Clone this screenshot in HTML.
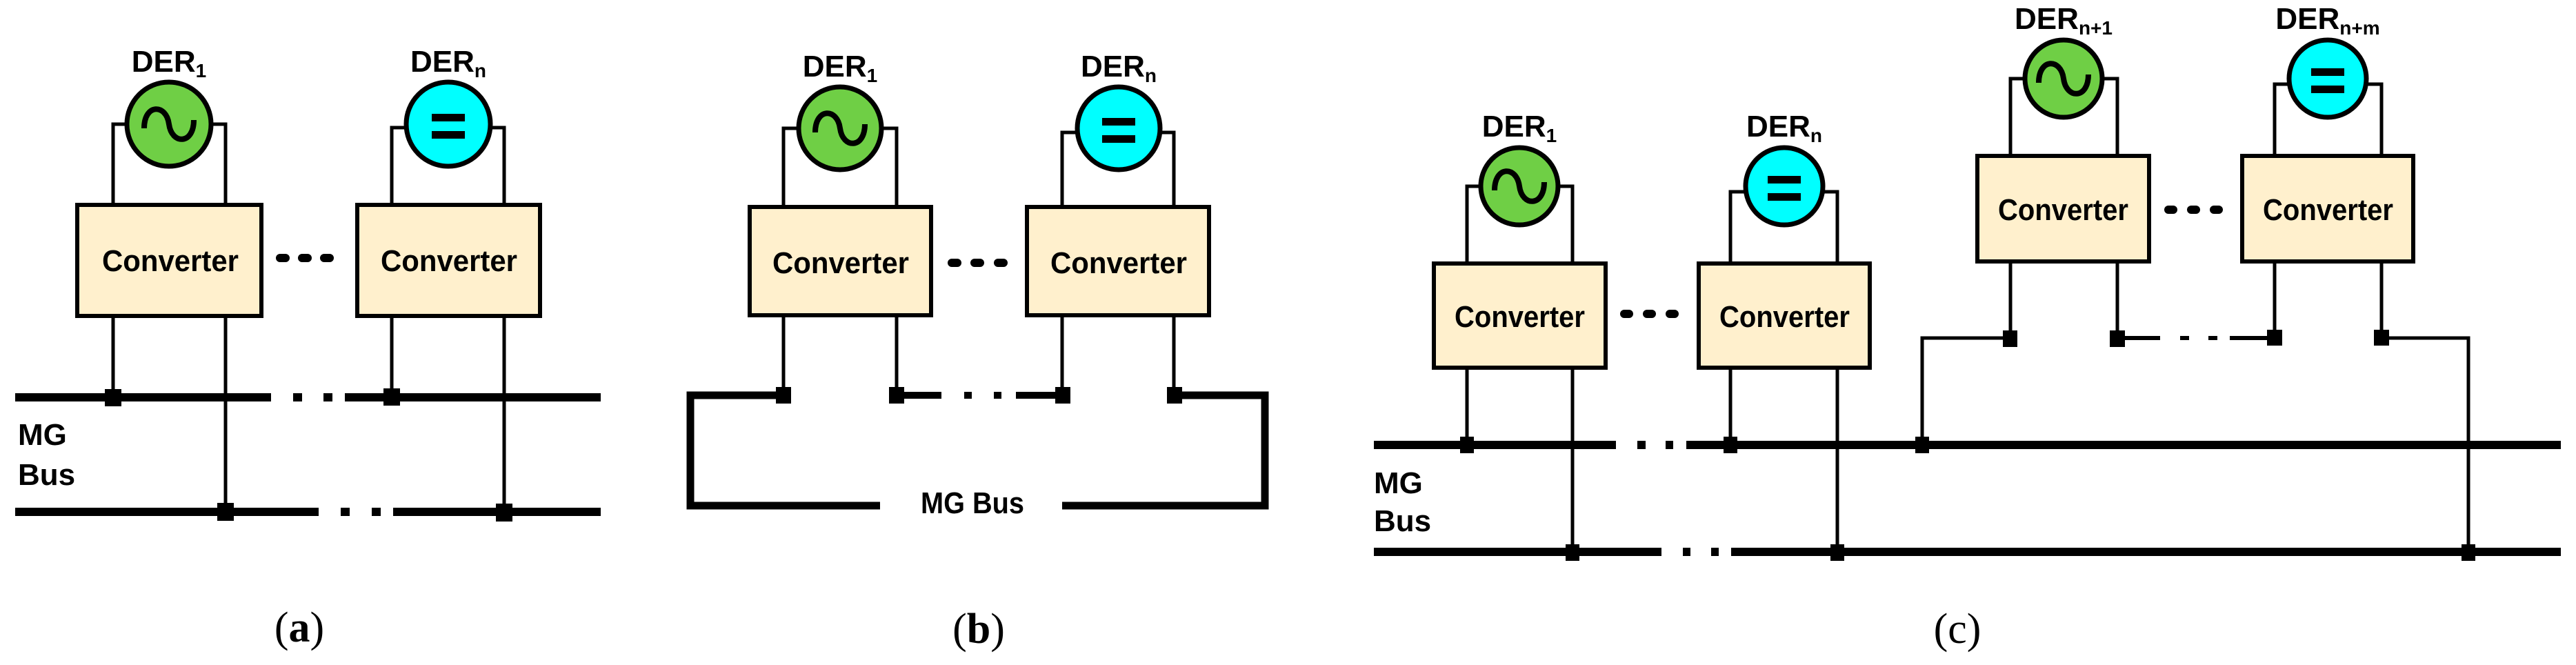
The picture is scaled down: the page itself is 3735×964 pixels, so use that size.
<!DOCTYPE html>
<html><head><meta charset="utf-8"><style>
html,body{margin:0;padding:0;background:#fff;}
svg{display:block;}
text{font-family:"Liberation Sans",sans-serif;font-weight:bold;fill:#000;}
.cap{font-family:"Liberation Serif",serif;font-weight:normal;font-size:62px;}
</style></head><body>
<svg width="3735" height="964" viewBox="0 0 3735 964" xmlns="http://www.w3.org/2000/svg">
<defs>
<g id="ac">
<path d="M-36 6 C-36 -30 -4 -30 0 0 C4 30 36 30 36 -6" fill="none" stroke="#000" stroke-width="8"/>
</g>
<g id="dc">
<rect x="-24" y="-15" width="48" height="11"/>
<rect x="-24" y="10" width="48" height="11"/>
</g>
</defs>
<g fill="none" stroke="#000">
<!-- ===== Panel a ===== -->
<path d="M164 297 V180 H184 M327 297 V180 H306" stroke-width="5"/>
<circle cx="245" cy="180" r="61" fill="#6fcf45" stroke-width="7"/>
<path d="M568 297 V185 H589 M731 297 V185 H711" stroke-width="5"/>
<circle cx="650" cy="180" r="61" fill="#00ffff" stroke-width="7"/>
<rect x="112" y="297" width="267" height="161" fill="#fff0cd" stroke-width="6"/>
<rect x="518" y="297" width="265" height="161" fill="#fff0cd" stroke-width="6"/>
<path d="M164 458 V576 M327 458 V742 M568 458 V576 M731 458 V742" stroke-width="5"/>
<path d="M22 576 H393 M425 576 H438 M469 576 H482 M500 576 H871" stroke-width="12"/>
<path d="M22 742 H462 M494 742 H507 M539 742 H552 M570 742 H871" stroke-width="12"/>
<path d="M406 374 H414 M438 374 H446 M470 374 H478" stroke-width="12" stroke-linecap="round"/>
<!-- ===== Panel b ===== -->
<path d="M1136 300 V186 H1158 M1300 300 V186 H1278" stroke-width="5"/>
<circle cx="1218" cy="186" r="60" fill="#6fcf45" stroke-width="7"/>
<path d="M1540 300 V192 H1562 M1702 300 V192 H1682" stroke-width="5"/>
<circle cx="1622" cy="186" r="60" fill="#00ffff" stroke-width="7"/>
<rect x="1087" y="300" width="263" height="157" fill="#fff0cd" stroke-width="6"/>
<rect x="1489" y="300" width="264" height="157" fill="#fff0cd" stroke-width="6"/>
<path d="M1136 457 V573 M1300 457 V573 M1540 457 V573 M1702 457 V573" stroke-width="5"/>
<path d="M1136 573 H1001 V733 H1276 M1540 733 H1834 V573 H1702" stroke-width="11"/>
<path d="M1300 573 H1365 M1398 573 H1409 M1441 573 H1452 M1473 573 H1540" stroke-width="10"/>
<path d="M1380 381 H1388 M1413 381 H1421 M1447 381 H1455" stroke-width="12" stroke-linecap="round"/>
<!-- ===== Panel c ===== -->
<path d="M2127 382 V270 H2148 M2280 382 V270 H2259" stroke-width="5"/>
<circle cx="2203" cy="270" r="56" fill="#6fcf45" stroke-width="7"/>
<path d="M2509 382 V278 H2531 M2664 382 V278 H2643" stroke-width="5"/>
<circle cx="2587" cy="270" r="56" fill="#00ffff" stroke-width="7"/>
<path d="M2915 226 V114 H2936 M3070 226 V114 H3048" stroke-width="5"/>
<circle cx="2992" cy="114" r="56" fill="#6fcf45" stroke-width="7"/>
<path d="M3298 226 V122 H3319 M3453 226 V122 H3431" stroke-width="5"/>
<circle cx="3375" cy="114" r="56" fill="#00ffff" stroke-width="7"/>
<rect x="2079" y="382" width="249" height="151" fill="#fff0cd" stroke-width="6"/>
<rect x="2463" y="382" width="248" height="151" fill="#fff0cd" stroke-width="6"/>
<rect x="2867" y="226" width="249" height="153" fill="#fff0cd" stroke-width="6"/>
<rect x="3251" y="226" width="248" height="153" fill="#fff0cd" stroke-width="6"/>
<path d="M2127 533 V645 M2280 533 V800 M2509 533 V645 M2664 533 V800" stroke-width="5"/>
<path d="M2915 379 V490 M3070 379 V490 M3298 379 V490 M3453 379 V490" stroke-width="5"/>
<path d="M2915 490 H2787 V645 M3453 490 H3579 V800" stroke-width="5"/>
<path d="M3070 490 H3132 M3161 490 H3174 M3202 490 H3215 M3233 490 H3298" stroke-width="6"/>
<path d="M1992 645 H2343 M2374 645 H2386 M2415 645 H2426 M2445 645 H3713" stroke-width="12"/>
<path d="M1992 800 H2409 M2440 800 H2451 M2481 800 H2492 M2510 800 H3713" stroke-width="12"/>
<path d="M2355 455 H2362 M2388 455 H2395 M2421 455 H2428" stroke-width="12" stroke-linecap="round"/>
<path d="M3144 304 H3151 M3177 304 H3184 M3210 304 H3217" stroke-width="12" stroke-linecap="round"/>
</g>
<!-- junction squares -->
<g fill="#000">
<rect x="152" y="564" width="24" height="25"/>
<rect x="556" y="563" width="24" height="25"/>
<rect x="315" y="729" width="24" height="26"/>
<rect x="719" y="730" width="24" height="26"/>
<rect x="1125" y="561" width="22" height="24"/>
<rect x="1289" y="561" width="22" height="24"/>
<rect x="1530" y="561" width="22" height="24"/>
<rect x="1692" y="561" width="22" height="24"/>
<rect x="2117" y="633" width="20" height="24"/>
<rect x="2499" y="633" width="20" height="24"/>
<rect x="2777" y="633" width="20" height="24"/>
<rect x="2270" y="789" width="20" height="24"/>
<rect x="2654" y="789" width="20" height="24"/>
<rect x="3569" y="789" width="20" height="24"/>
<rect x="2904" y="479" width="21" height="24"/>
<rect x="3059" y="479" width="22" height="24"/>
<rect x="3287" y="478" width="22" height="23"/>
<rect x="3442" y="478" width="22" height="23"/>
</g>
<!-- source symbols -->
<use href="#ac" x="245" y="180"/>
<use href="#dc" x="650" y="180"/>
<use href="#ac" x="1218" y="186"/>
<use href="#dc" x="1622" y="186"/>
<use href="#ac" x="2203" y="270"/>
<use href="#dc" x="2587" y="270"/>
<use href="#ac" x="2992" y="114"/>
<use href="#dc" x="3375" y="114"/>
<!-- labels -->
<g font-size="44" text-anchor="middle">
<text x="245" y="104">DER<tspan font-size="28" dy="8">1</tspan></text>
<text x="650" y="104">DER<tspan font-size="28" dy="8">n</tspan></text>
<text x="1218" y="111">DER<tspan font-size="28" dy="8">1</tspan></text>
<text x="1622" y="111">DER<tspan font-size="28" dy="8">n</tspan></text>
<text x="2203" y="198">DER<tspan font-size="28" dy="8">1</tspan></text>
<text x="2587" y="198">DER<tspan font-size="28" dy="8">n</tspan></text>
<text x="2992" y="42">DER<tspan font-size="28" dy="8">n+1</tspan></text>
<text x="3375" y="42">DER<tspan font-size="28" dy="8">n+m</tspan></text>
</g>
<g font-size="44">
<text x="148" y="393" textLength="198" lengthAdjust="spacingAndGlyphs">Converter</text>
<text x="552" y="393" textLength="198" lengthAdjust="spacingAndGlyphs">Converter</text>
<text x="1120" y="396" textLength="198" lengthAdjust="spacingAndGlyphs">Converter</text>
<text x="1523" y="396" textLength="198" lengthAdjust="spacingAndGlyphs">Converter</text>
<text x="2109" y="474" textLength="189" lengthAdjust="spacingAndGlyphs">Converter</text>
<text x="2493" y="474" textLength="189" lengthAdjust="spacingAndGlyphs">Converter</text>
<text x="2897" y="319" textLength="189" lengthAdjust="spacingAndGlyphs">Converter</text>
<text x="3281" y="319" textLength="189" lengthAdjust="spacingAndGlyphs">Converter</text>
</g>
<g font-size="44">
<text x="26" y="645">MG</text>
<text x="26" y="703">Bus</text>
<text x="1335" y="744" textLength="150" lengthAdjust="spacingAndGlyphs">MG Bus</text>
<text x="1992" y="715">MG</text>
<text x="1992" y="770">Bus</text>
</g>
<text class="cap" x="434" y="930" text-anchor="middle">(<tspan font-weight="bold">a</tspan>)</text>
<text class="cap" x="1419" y="932" text-anchor="middle">(<tspan font-weight="bold">b</tspan>)</text>
<text class="cap" x="2838" y="932" text-anchor="middle">(c)</text>
</svg>
</body></html>
